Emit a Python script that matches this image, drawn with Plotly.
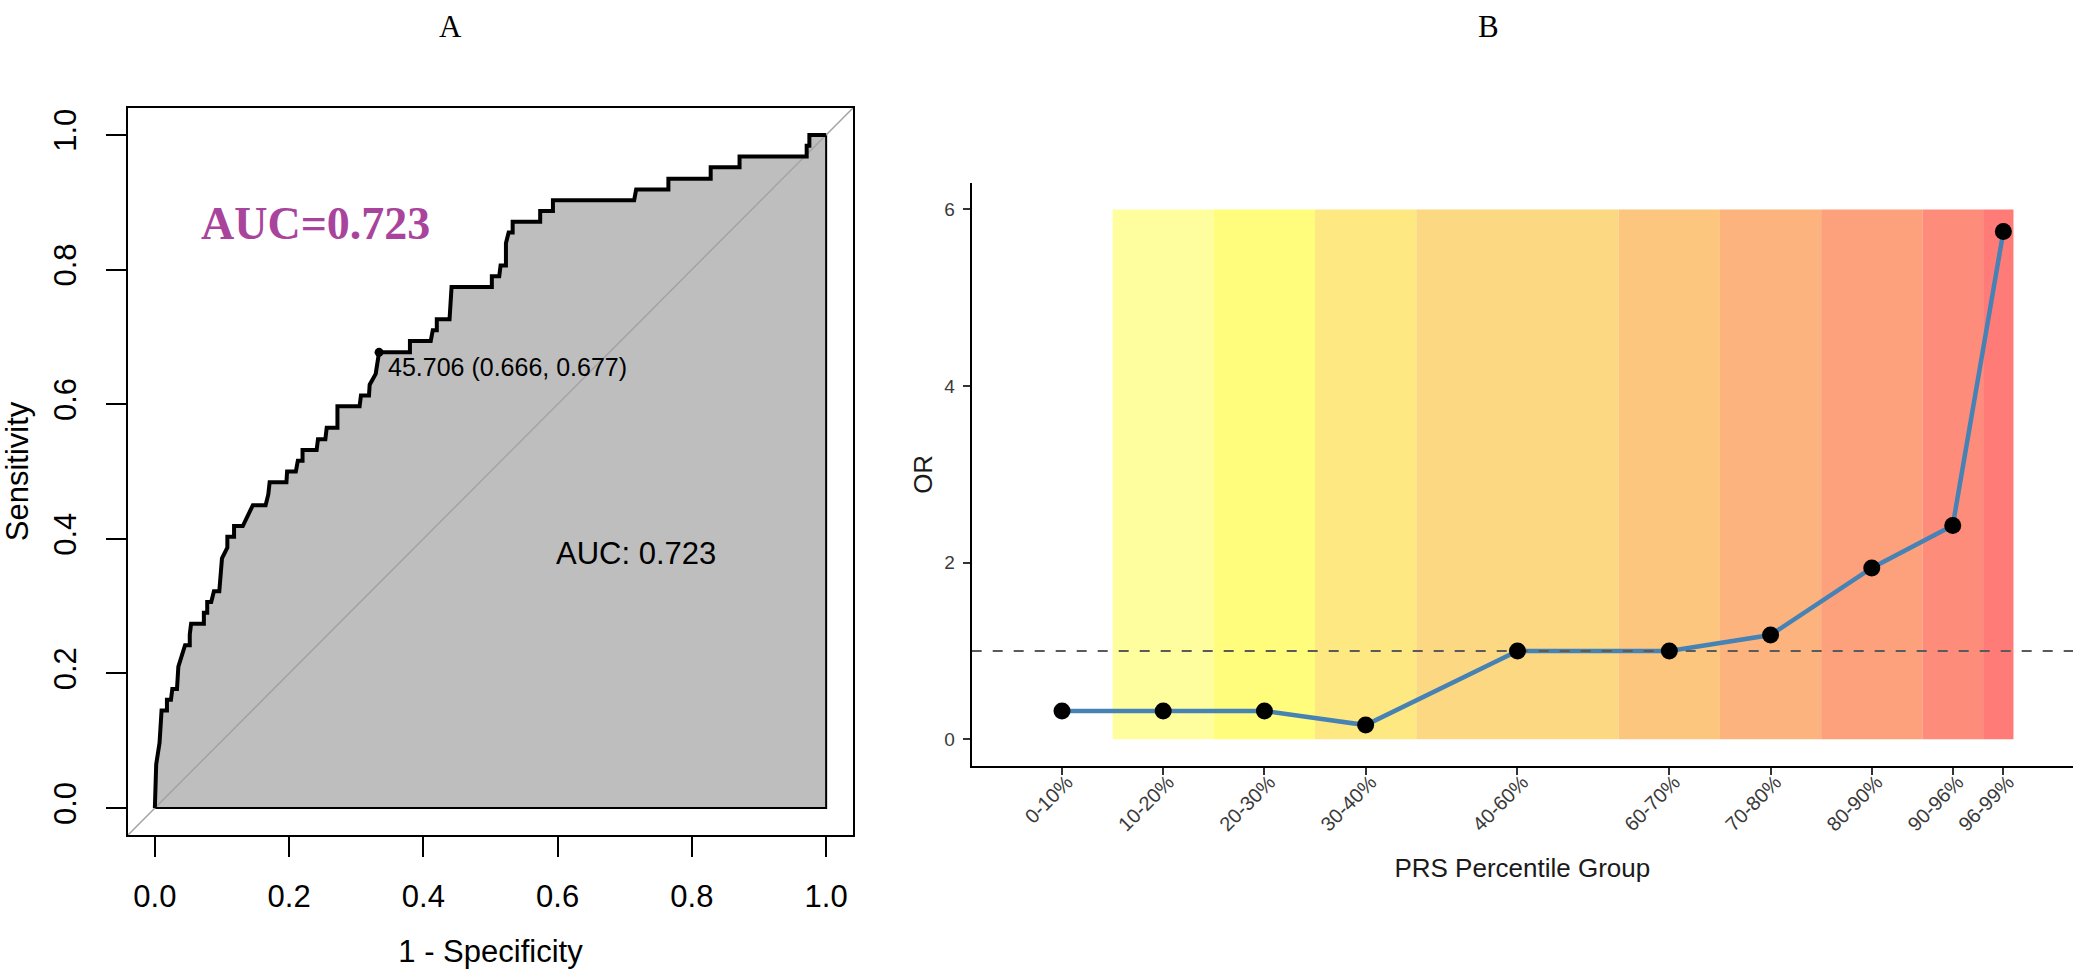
import plotly.graph_objects as go

# ---------------- Panel A : ROC curve ----------------
roc_fpr = [0.000, 0.002, 0.007, 0.010, 0.018, 0.018, 0.024, 0.026, 0.033, 0.035,
           0.045, 0.052, 0.052, 0.054, 0.073, 0.073, 0.078, 0.078, 0.084, 0.088,
           0.096, 0.097, 0.100, 0.108, 0.108, 0.118, 0.118, 0.131, 0.146, 0.165,
           0.169, 0.171, 0.196, 0.197, 0.210, 0.213, 0.220, 0.220, 0.241, 0.243,
           0.254, 0.256, 0.272, 0.272, 0.305, 0.307, 0.319, 0.320, 0.329, 0.334,
           0.380, 0.380, 0.411, 0.414, 0.420, 0.420, 0.439, 0.442, 0.502, 0.502,
           0.513, 0.515, 0.523, 0.523, 0.527, 0.533, 0.533, 0.574, 0.574, 0.593,
           0.593, 0.714, 0.717, 0.765, 0.765, 0.828, 0.828, 0.871, 0.871, 0.971,
           0.971, 0.975, 0.975, 1.000]
roc_tpr = [0.000, 0.065, 0.097, 0.145, 0.145, 0.161, 0.161, 0.177, 0.177, 0.210,
           0.242, 0.242, 0.258, 0.274, 0.274, 0.290, 0.290, 0.306, 0.306, 0.322,
           0.322, 0.339, 0.371, 0.387, 0.403, 0.403, 0.419, 0.419, 0.450, 0.450,
           0.466, 0.484, 0.484, 0.500, 0.500, 0.516, 0.516, 0.532, 0.532, 0.548,
           0.548, 0.565, 0.565, 0.597, 0.597, 0.613, 0.613, 0.629, 0.645, 0.677,
           0.677, 0.694, 0.694, 0.710, 0.710, 0.726, 0.726, 0.774, 0.774, 0.790,
           0.790, 0.806, 0.806, 0.839, 0.855, 0.855, 0.871, 0.871, 0.887, 0.887,
           0.903, 0.903, 0.919, 0.919, 0.935, 0.935, 0.952, 0.952, 0.968, 0.968,
           0.984, 0.984, 1.000, 1.000]
auc_value = 0.723
thr_value = 45.706
thr_spec = 0.666
thr_sens = 0.677
roc_ticks = [0.0, 0.2, 0.4, 0.6, 0.8, 1.0]
roc_ticktext = ["0.0", "0.2", "0.4", "0.6", "0.8", "1.0"]

# ---------------- Panel B : OR by PRS group ----------------
groups = ["0-10%", "10-20%", "20-30%", "30-40%", "40-60%",
          "60-70%", "70-80%", "80-90%", "90-96%", "96-99%"]
group_x = [5, 15, 25, 35, 50, 65, 75, 85, 93, 98]
odds_ratio = [0.32, 0.32, 0.32, 0.16, 1.00, 1.00, 1.18, 1.94, 2.42, 5.75]
band_edges = [10, 20, 30, 40, 60, 70, 80, 90, 96, 99]
band_colors = ["#FFFE9E", "#FFFD7B", "#FEE881", "#FDD882", "#FCC67F",
               "#FCB37D", "#FDA07C", "#FE8C7A", "#FF7B78"]
band_top = 6
or_reference = 1
or_ticks = [0, 2, 4, 6]

W, H = 2075, 969
SANS = "Liberation Sans"
SERIF = "Liberation Serif"


def px_x(p):
    return p / W


def px_y(p):
    return 1 - p / H


fig = go.Figure()

# ROC polygon (area under the curve)
fig.add_trace(go.Scatter(
    x=roc_fpr + [1.0, 0.0], y=roc_tpr + [0.0, 0.0],
    mode="lines", fill="toself", fillcolor="#BEBEBE",
    line=dict(color="black", width=2), hoverinfo="skip",
    xaxis="x", yaxis="y", showlegend=False))
# chance diagonal
fig.add_trace(go.Scatter(
    x=[-0.04, 1.04], y=[-0.04, 1.04], mode="lines",
    line=dict(color="#A3A3A3", width=1.5), hoverinfo="skip",
    xaxis="x", yaxis="y", showlegend=False))
# ROC curve
fig.add_trace(go.Scatter(
    x=roc_fpr, y=roc_tpr, mode="lines",
    line=dict(color="black", width=4),
    xaxis="x", yaxis="y", showlegend=False))
# best threshold point
fig.add_trace(go.Scatter(
    x=[1 - thr_spec], y=[thr_sens], mode="markers",
    marker=dict(color="black", size=9),
    xaxis="x", yaxis="y", showlegend=False))

# Panel B: line, reference line, points
fig.add_trace(go.Scatter(
    x=group_x, y=odds_ratio, mode="lines",
    line=dict(color="#4682B4", width=4.5),
    xaxis="x2", yaxis="y2", showlegend=False))
x2_range = [-3.92, 104.88]
fig.add_trace(go.Scatter(
    x=x2_range, y=[or_reference, or_reference], mode="lines",
    line=dict(color="#5A5A5A", width=2, dash="10px,11px"), hoverinfo="skip",
    xaxis="x2", yaxis="y2", showlegend=False))
fig.add_trace(go.Scatter(
    x=group_x, y=odds_ratio, mode="markers",
    marker=dict(color="black", size=17),
    xaxis="x2", yaxis="y2", showlegend=False))

shapes = []
for i, col in enumerate(band_colors):
    shapes.append(dict(type="rect", xref="x2", yref="y2",
                       x0=band_edges[i], x1=band_edges[i + 1],
                       y0=0, y1=band_top, fillcolor=col,
                       line=dict(width=0), layer="below"))

annotations = [
    dict(text="A", x=px_x(450), y=px_y(26), xref="paper", yref="paper",
         showarrow=False, font=dict(family=SERIF, size=31, color="black"),
         xanchor="center", yanchor="middle"),
    dict(text="B", x=px_x(1488), y=px_y(26), xref="paper", yref="paper",
         showarrow=False, font=dict(family=SERIF, size=31, color="black"),
         xanchor="center", yanchor="middle"),
    dict(text="<b>AUC=%.3f</b>" % auc_value, x=0.066, y=0.868, xref="x", yref="y",
         showarrow=False, font=dict(family=SERIF, size=46, color="#A9449C"),
         xanchor="left", yanchor="middle"),
    dict(text="%.3f (%.3f, %.3f)" % (thr_value, thr_spec, thr_sens),
         x=0.345, y=0.655, xref="x", yref="y", showarrow=False,
         font=dict(family=SANS, size=25, color="black"),
         xanchor="left", yanchor="middle"),
    dict(text="AUC: %.3f" % auc_value, x=0.595, y=0.378, xref="x", yref="y",
         showarrow=False, font=dict(family=SANS, size=31, color="black"),
         xanchor="left", yanchor="middle"),
]

fig.update_layout(
    width=W, height=H, template="none",
    paper_bgcolor="white", plot_bgcolor="white",
    margin=dict(l=0, r=0, t=0, b=0),
    showlegend=False,
    shapes=shapes, annotations=annotations,
    xaxis=dict(domain=[px_x(128), px_x(853)], range=[-0.04, 1.04], anchor="y",
               tickvals=roc_ticks, ticktext=roc_ticktext,
               ticks="outside", ticklen=20, tickwidth=2, tickcolor="black",
               showline=True, mirror=True, linecolor="black", linewidth=2,
               showgrid=False, zeroline=False, automargin=False,
               ticklabelstandoff=13,
               tickfont=dict(family=SANS, size=31, color="black"),
               title=dict(text="1 - Specificity", standoff=28,
                          font=dict(family=SANS, size=31, color="black"))),
    yaxis=dict(domain=[px_y(835), px_y(108)], range=[-0.04, 1.04], anchor="x",
               tickvals=roc_ticks, ticktext=roc_ticktext, tickangle=-90,
               ticks="outside", ticklen=20, tickwidth=2, tickcolor="black",
               showline=True, mirror=True, linecolor="black", linewidth=2,
               showgrid=False, zeroline=False, automargin=False,
               ticklabelstandoff=18,
               tickfont=dict(family=SANS, size=31, color="black"),
               title=dict(text="Sensitivity", standoff=22,
                          font=dict(family=SANS, size=31, color="black"))),
    xaxis2=dict(domain=[px_x(971.7), px_x(2073)], range=x2_range, anchor="y2",
                tickvals=group_x, ticktext=groups, tickangle=-45,
                ticks="outside", ticklen=7, tickwidth=1.5, tickcolor="#333333",
                showline=True, linecolor="black", linewidth=2,
                showgrid=False, zeroline=False, automargin=False,
                ticklabelstandoff=-12, ticklabelshift=5,
                tickfont=dict(family=SANS, size=20, color="#3A3A3A"),
                title=dict(text="PRS Percentile Group", standoff=24,
                           font=dict(family=SANS, size=26, color="#1A1A1A"))),
    yaxis2=dict(domain=[px_y(765.7), px_y(183)], range=[-0.3, 6.3], anchor="x2",
                tickvals=or_ticks, ticks="outside", ticklen=7, tickwidth=1.5,
                tickcolor="#333333",
                showline=True, linecolor="black", linewidth=2,
                showgrid=False, zeroline=False, automargin=False,
                ticklabelstandoff=4,
                tickfont=dict(family=SANS, size=19, color="#3A3A3A"),
                title=dict(text="OR", standoff=4,
                           font=dict(family=SANS, size=26, color="#1A1A1A"))),
)

fig.write_html(
    "out.html",
    config={"displayModeBar": False},
    post_script="document.body.style.margin='0px';"
                "document.body.style.overflow='hidden';")
